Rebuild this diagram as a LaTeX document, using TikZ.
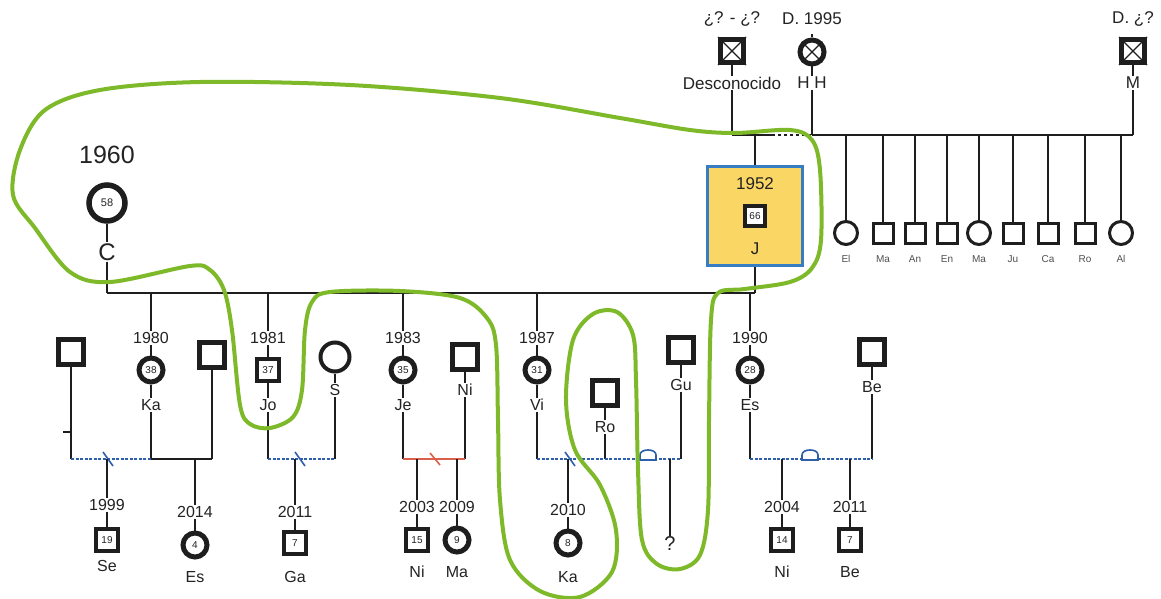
\documentclass[tikz,border=0pt]{standalone}
\usepackage{fontspec}
\setmainfont{Liberation Sans}
\definecolor{ln}{RGB}{30,30,30}
\definecolor{txt}{RGB}{35,35,35}
\definecolor{rel}{RGB}{45,95,170}
\definecolor{relred}{RGB}{220,95,75}
\definecolor{hl}{RGB}{125,185,40}
\definecolor{jfill}{RGB}{250,214,100}
\definecolor{jdraw}{RGB}{55,125,195}
\begin{document}
\begin{tikzpicture}[x=1pt,y=-1pt,
 lbl/.style={font=\fontsize{16}{16}\selectfont, text=txt, inner sep=1pt},
 big/.style={font=\fontsize{17}{17}\selectfont, text=txt, inner sep=1pt},
 tiny/.style={font=\fontsize{10}{10}\selectfont, text=txt!80, inner sep=1pt},
 age/.style={font=\fontsize{10}{10}\selectfont, text=txt},
 msq/.style={draw=ln, line width=4.5pt, rectangle, minimum size=22pt, inner sep=0pt, fill=white, age},
 mci/.style={draw=ln, line width=5pt, circle, minimum size=24pt, inner sep=0pt, fill=white, age},
 psq/.style={draw=ln, line width=4.5pt, rectangle, minimum size=25pt, inner sep=0pt, fill=white},
 pci/.style={draw=ln, line width=4pt, circle, minimum size=29pt, inner sep=0pt, fill=white},
 ssq/.style={draw=ln, line width=3pt, rectangle, minimum size=20pt, inner sep=0pt, fill=white},
 sci/.style={draw=ln, line width=3pt, circle, minimum size=23pt, inner sep=0pt, fill=white},
 xsq/.style={draw=ln, line width=5pt, rectangle, minimum size=23pt, inner sep=0pt, fill=white},
 xci/.style={draw=ln, line width=5pt, circle, minimum size=24pt, inner sep=0pt, fill=white},
 edge/.style={draw=ln, line width=1.8pt},
 xline/.style={draw=ln, line width=1.3pt},
 rdash/.style={draw=rel, line width=1.6pt, dash pattern=on 3pt off 1.5pt},
 rsolid/.style={draw=relred, line width=1.8pt},
 slash/.style={draw=rel, line width=1.6pt},
 hlline/.style={draw=hl, line width=4pt, line join=round}
]
\useasboundingbox (0,0) rectangle (1161,599);
\fill[white] (0,0) rectangle (1161,599);

% ---------- top generation ----------
\node[xsq] (des) at (732,51) {};
\node[big] (desY) at (732,19) {¿? - ¿?};
\node[big] (desN) at (732,83) {Desconocido};
\node[xci] (hh) at (812,52) {};
\node[big] (hhY) at (812,19) {D. 1995};
\node[big] (hhN) at (812,83) {H H};
\node[xsq] (m) at (1133,51) {};
\node[big] (mY) at (1133,19) {D. ¿?};
\node[big] (mN) at (1133,83) {M};
\draw[xline] (des.north west) -- (des.south east) (des.north east) -- (des.south west);
\draw[xline] (m.north west) -- (m.south east) (m.north east) -- (m.south west);
\draw[xline] (hh.north west) -- (hh.south east) (hh.north east) -- (hh.south west);
\coordinate (hhtop) at (812,34);
\draw[edge] (hh.north) -- (hhtop);
\draw[edge] (des.south) -- (desN.north);
\draw[edge] (hh.south) -- (hhN.north);
\draw[edge] (m.south) -- (mN.north);

\coordinate (desB) at (732,135);
\coordinate (dmid) at (772,135);
\coordinate (hhB) at (812,135);
\coordinate (mB) at (1133,135);
\coordinate (jT) at (755,135);
\draw[edge] (desN.south) -- (desB);
\draw[edge] (hhN.south) -- (hhB);
\draw[edge] (mN.south) -- (mB);
\draw[edge] (desB) -- (dmid);
\draw[draw=ln, line width=1.8pt, dash pattern=on 3pt off 3pt] (dmid) -- (hhB);
\draw[edge] (hhB) -- (mB);

% half-siblings
\foreach \x/\k/\n/\i in {846/sci/El/1, 883/ssq/Ma/2, 915/ssq/An/3, 947/ssq/En/4, 979/sci/Ma/5, 1013/ssq/Ju/6, 1048/ssq/Ca/7, 1085/ssq/Ro/8, 1121/sci/Al/9}{
  \node[\k] (hs\i) at (\x,233) {};
  \node[tiny] (hsn\i) at (\x,259) {\n};
  \coordinate (hst\i) at (\x,135);
  \draw[edge] (hst\i) -- (hs\i.north);
}

% J
\node[draw=jdraw, line width=3pt, fill=jfill, minimum width=95pt, minimum height=99pt, inner sep=0pt] (jbox) at (755,216) {};
\node[big] (jY) at (755,184) {1952};
\node[msq, minimum size=20pt] (j) at (755,216) {66};
\node[big] (jN) at (755,249) {J};
\coordinate (jB) at (755,293);
\draw[edge] (jT) -- (jbox.north);
\draw[edge] (jbox.south) -- (jB);

% C
\node[font=\fontsize{25}{25}\selectfont, text=txt, inner sep=1pt] (cY) at (107,155) {1960};
\node[mci, minimum size=36pt, line width=5.5pt, font=\fontsize{11}{11}\selectfont] (c) at (107,203) {58};
\node[font=\fontsize{24}{24}\selectfont, text=txt, inner sep=1pt] (cN) at (107,252) {C};
\coordinate (cB) at (107,293);
\draw[edge] (c.south) -- (cN.north);
\draw[edge] (cN.south) -- (cB);
\draw[edge] (cB) -- (jB);

% ---------- children of C and J ----------
\foreach \x/\k/\a/\yy/\n/\i in {151/mci/38/1980/Ka/ka, 268/msq/37/1981/Jo/jo, 403/mci/35/1983/Je/je, 537/mci/31/1987/Vi/vi, 750/mci/28/1990/Es/es}{
  \coordinate (\i T) at (\x,293);
  \coordinate (\i B) at (\x,459);
  \node[lbl] (\i Y) at (\x,338) {\yy};
  \node[\k] (\i) at (\x,370) {\a};
  \node[lbl] (\i N) at (\x,405) {\n};
  \draw[edge] (\i T) -- (\i Y.north);
  \draw[edge] (\i Y.south) -- (\i.north);
  \draw[edge] (\i.south) -- (\i N.north);
  \draw[edge] (\i N.south) -- (\i B);
}

% partners
\node[psq] (p1) at (71,352) {};
\node[psq] (p2) at (212,355) {};
\node[pci] (s) at (335,357) {};
\node[lbl] (sN) at (335,390) {S};
\node[psq] (ni) at (465,357) {};
\node[lbl] (niN) at (465,390) {Ni};
\node[psq] (ro) at (605,393) {};
\node[lbl] (roN) at (605,427) {Ro};
\node[psq] (gu) at (681,350) {};
\node[lbl] (guN) at (681,385) {Gu};
\node[psq] (be) at (872,352) {};
\node[lbl] (beN) at (872,387) {Be};
\coordinate (p1B) at (71,459);
\coordinate (p1t) at (63,432);
\coordinate (p1u) at (71,432);
\coordinate (p2B) at (212,459);
\coordinate (sB) at (335,459);
\coordinate (niB) at (465,459);
\coordinate (roB) at (605,459);
\coordinate (guB) at (681,459);
\coordinate (beB) at (872,459);
\draw[edge] (p1.south) -- (p1B);
\draw[edge] (p1t) -- (p1u);
\draw[edge] (p2.south) -- (p2B);
\foreach \i in {s,ni,ro,gu,be}{
  \draw[edge] (\i.south) -- (\i N.north);
  \draw[edge] (\i N.south) -- (\i B);
}

% couple lines
\draw[rdash] (p1B) -- (kaB);
\draw[slash] (103,452) -- (113,466);
\draw[draw=ln, line width=2.4pt] (kaB) -- (p2B);
\draw[rdash] (joB) -- (sB);
\draw[slash] (295,452) -- (305,466);
\draw[rsolid] (jeB) -- (niB);
\draw[draw=relred, line width=1.6pt] (430,453) -- (440,465);
\draw[rdash] (viB) -- (guB);
\draw[slash] (565,452) -- (575,466);
\draw[draw=rel, line width=1.6pt, fill=white] (640,460) -- (640,455) to[out=90,in=180] (648,450) to[out=0,in=90] (656,455) -- (656,460) -- cycle;
\draw[rdash] (esB) -- (beB);
\draw[draw=rel, line width=1.6pt, fill=white] (802,460) -- (802,455) to[out=90,in=180] (810,450) to[out=0,in=90] (818,455) -- (818,460) -- cycle;

% ---------- grandchildren ----------
\foreach \x/\k/\a/\yy/\n/\ry/\sy/\ny/\i in {107/msq/19/1999/Se/505/540/566/g1, 195/mci/4/2014/Es/512/545/577/g2, 295/msq/7/2011/Ga/512/543/577/g3, 417/msq/15/2003/Ni/507/540/572/g4, 457/mci/9/2009/Ma/507/540/572/g5, 568/mci/8/2010/Ka/510/543/577/g6, 782/msq/14/2004/Ni/507/540/572/g7, 850/msq/7/2011/Be/507/540/572/g8}{
  \coordinate (\i T) at (\x,459);
  \node[lbl] (\i Y) at (\x,\ry) {\yy};
  \node[\k] (\i) at (\x,\sy) {\a};
  \node[lbl] (\i N) at (\x,\ny) {\n};
  \draw[edge] (\i T) -- (\i Y.north);
  \draw[edge] (\i Y.south) -- (\i.north);
}
\coordinate (qT) at (670,459);
\node[font=\fontsize{20}{20}\selectfont, text=txt, inner sep=1pt] (q) at (670,544) {?};
\draw[edge] (qT) -- (q.north);

% ---------- green outline ----------
\draw[hlline] plot[smooth cycle, tension=0.55] coordinates {
 (735,133) (790,130) (812,140) (820,170) (821,240) (812,268) (790,282) (745,289) (718,293)
 (711,320) (709,420) (708,510) (700,555) (680,569) (657,564) (642,540) (638,470) (636,380)
 (633,335) (617,312) (593,314) (573,340) (566,400) (575,450) (600,485) (616,530) (612,572)
 (580,597) (540,591) (510,560) (500,500) (498,420) (496,345) (487,318) (460,298) (400,291)
 (330,292) (312,302) (305,330) (302,390) (293,417) (270,428) (250,424) (240,405) (232,330)
 (224,290) (210,270) (190,266) (110,282) (70,272) (35,228) (13,195) (20,150) (45,110)
 (100,90) (200,82) (350,85) (500,98) (620,118) (690,130)};
\end{tikzpicture}
\end{document}
